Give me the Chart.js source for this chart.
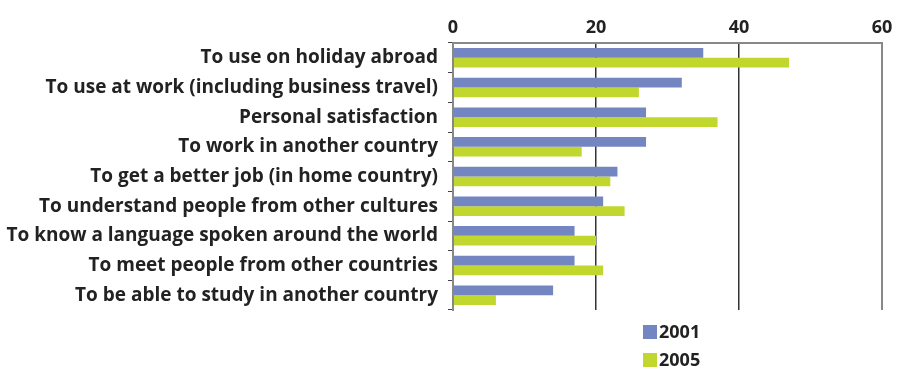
<!DOCTYPE html>
<html>
<head>
<meta charset="utf-8">
<script src="https://cdn.jsdelivr.net/npm/chart.js@4.4.1/dist/chart.umd.min.js"></script>
<style>
  html, body { margin: 0; padding: 0; background: #fff; }
  #wrap { width: 899px; height: 373px; position: relative; }
</style>
</head>
<body>
<div id="wrap"><canvas id="chart"></canvas></div>
<script>
// reasons for learning a language, % of respondents
const categories = [
  'To use on holiday abroad',
  'To use at work (including business travel)',
  'Personal satisfaction',
  'To work in another country',
  'To get a better job (in home country)',
  'To understand people from other cultures',
  'To know a language spoken around the world',
  'To meet people from other countries',
  'To be able to study in another country'
];
const seriesNames = ['2001', '2005'];
const values2001 = [35, 32, 27, 27, 23, 21, 17, 17, 14];
const values2005 = [47, 26, 37, 18, 22, 24, 20, 21, 6];
const xTicks = [0, 20, 40, 60];

const FONT = "'Open Sans', 'DejaVu Sans', sans-serif";
const TEXT = '#222';

// legend stacked vertically under the plot
const stackedLegend = {
  id: 'stackedLegend',
  afterDraw(chart) {
    const ctx = chart.ctx;
    ctx.save();
    ctx.font = `bold 18px ${FONT}`;
    ctx.textBaseline = 'middle';
    chart.data.datasets.forEach((ds, i) => {
      const y = 332 + i * 28;
      ctx.fillStyle = ds.backgroundColor;
      ctx.fillRect(643, y - 7, 14, 14);
      ctx.fillStyle = TEXT;
      ctx.fillText(ds.label, 659, y + 1);
    });
    ctx.restore();
  }
};

new Chart(document.getElementById('chart'), {
  type: 'bar',
  data: {
    labels: categories,
    datasets: [
      { label: seriesNames[0], data: values2001, backgroundColor: '#7486C2' },
      { label: seriesNames[1], data: values2005, backgroundColor: '#C2D72E' }
    ]
  },
  options: {
    indexAxis: 'y',
    responsive: true,
    maintainAspectRatio: false,
    animation: false,
    datasets: { bar: { categoryPercentage: 0.66, barPercentage: 1 } },
    layout: { padding: { top: 0, right: 17, bottom: 63, left: 0 } },
    plugins: {
      legend: { display: false },
      tooltip: { enabled: false }
    },
    scales: {
      x: {
        position: 'top',
        min: 0,
        max: 60,
        afterBuildTicks: (scale) => { scale.ticks = xTicks.map(v => ({ value: v })); },
        afterFit: (scale) => { scale.height = 43; },
        ticks: {
          color: TEXT,
          font: { family: FONT, size: 18, weight: 'bold' },
          padding: 4
        },
        grid: {
          drawTicks: false,
          color: (c) => (c.tick && (c.tick.value === 0 || c.tick.value === 60)) ? '#888' : '#333',
          lineWidth: (c) => (c.tick && (c.tick.value === 0 || c.tick.value === 60)) ? 2 : 1.5
        },
        border: { display: true, color: '#888', width: 2 }
      },
      y: {
        afterFit: (scale) => { scale.width = 453; },
        ticks: {
          color: TEXT,
          font: { family: FONT, size: 19, weight: 'bold' },
          padding: 10
        },
        grid: {
          drawOnChartArea: false,
          drawTicks: true,
          tickLength: 5,
          color: '#444',
          lineWidth: 1
        },
        border: { display: true, color: '#888', width: 2 }
      }
    }
  },
  plugins: [stackedLegend]
});
</script>
</body>
</html>
